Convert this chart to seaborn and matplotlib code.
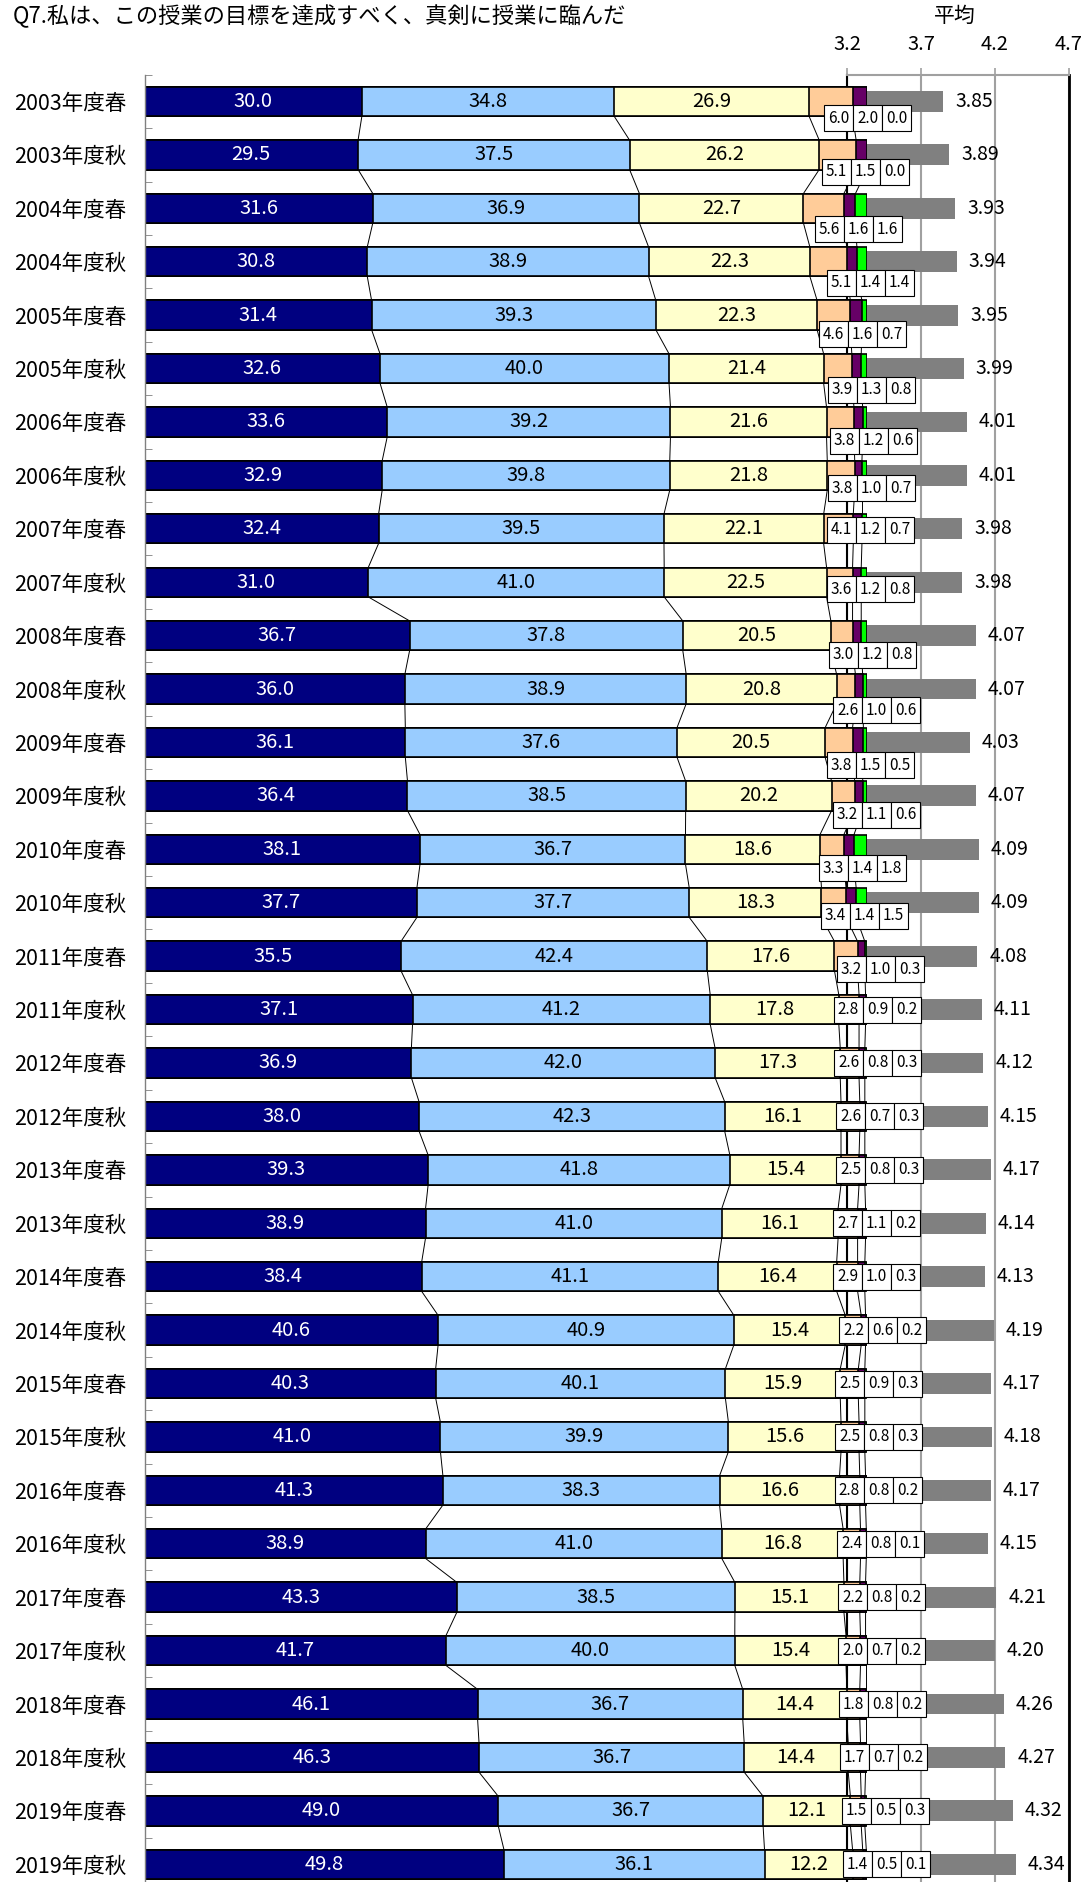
import matplotlib
matplotlib.use("Agg")
import matplotlib.pyplot as plt
from matplotlib.patches import Rectangle
import seaborn as sns
import numpy as np
import pandas as pd

plt.rcParams['font.family'] = ['Noto Sans CJK JP', 'DejaVu Sans']

# data
terms = ["2003年度春", "2003年度秋", "2004年度春", "2004年度秋", "2005年度春", "2005年度秋",
         "2006年度春", "2006年度秋", "2007年度春", "2007年度秋", "2008年度春", "2008年度秋",
         "2009年度春", "2009年度秋", "2010年度春", "2010年度秋", "2011年度春", "2011年度秋",
         "2012年度春", "2012年度秋", "2013年度春", "2013年度秋", "2014年度春", "2014年度秋",
         "2015年度春", "2015年度秋", "2016年度春", "2016年度秋", "2017年度春", "2017年度秋",
         "2018年度春", "2018年度秋", "2019年度春", "2019年度秋"]
strongly_agree = [30.0, 29.5, 31.6, 30.8, 31.4, 32.6, 33.6, 32.9, 32.4, 31.0, 36.7, 36.0,
                  36.1, 36.4, 38.1, 37.7, 35.5, 37.1, 36.9, 38.0, 39.3, 38.9, 38.4, 40.6,
                  40.3, 41.0, 41.3, 38.9, 43.3, 41.7, 46.1, 46.3, 49.0, 49.8]
agree = [34.8, 37.5, 36.9, 38.9, 39.3, 40.0, 39.2, 39.8, 39.5, 41.0, 37.8, 38.9,
         37.6, 38.5, 36.7, 37.7, 42.4, 41.2, 42.0, 42.3, 41.8, 41.0, 41.1, 40.9,
         40.1, 39.9, 38.3, 41.0, 38.5, 40.0, 36.7, 36.7, 36.7, 36.1]
neutral = [26.9, 26.2, 22.7, 22.3, 22.3, 21.4, 21.6, 21.8, 22.1, 22.5, 20.5, 20.8,
           20.5, 20.2, 18.6, 18.3, 17.6, 17.8, 17.3, 16.1, 15.4, 16.1, 16.4, 15.4,
           15.9, 15.6, 16.6, 16.8, 15.1, 15.4, 14.4, 14.4, 12.1, 12.2]
disagree = [6.0, 5.1, 5.6, 5.1, 4.6, 3.9, 3.8, 3.8, 4.1, 3.6, 3.0, 2.6,
            3.8, 3.2, 3.3, 3.4, 3.2, 2.8, 2.6, 2.6, 2.5, 2.7, 2.9, 2.2,
            2.5, 2.5, 2.8, 2.4, 2.2, 2.0, 1.8, 1.7, 1.5, 1.4]
strongly_disagree = [2.0, 1.5, 1.6, 1.4, 1.6, 1.3, 1.2, 1.0, 1.2, 1.2, 1.2, 1.0,
                     1.5, 1.1, 1.4, 1.4, 1.0, 0.9, 0.8, 0.7, 0.8, 1.1, 1.0, 0.6,
                     0.9, 0.8, 0.8, 0.8, 0.8, 0.7, 0.8, 0.7, 0.5, 0.5]
no_answer = [0.0, 0.0, 1.6, 1.4, 0.7, 0.8, 0.6, 0.7, 0.7, 0.8, 0.8, 0.6,
             0.5, 0.6, 1.8, 1.5, 0.3, 0.2, 0.3, 0.3, 0.3, 0.2, 0.3, 0.2,
             0.3, 0.3, 0.2, 0.1, 0.2, 0.2, 0.2, 0.2, 0.3, 0.1]
average = [3.85, 3.89, 3.93, 3.94, 3.95, 3.99, 4.01, 4.01, 3.98, 3.98, 4.07, 4.07,
           4.03, 4.07, 4.09, 4.09, 4.08, 4.11, 4.12, 4.15, 4.17, 4.14, 4.13, 4.19,
           4.17, 4.18, 4.17, 4.15, 4.21, 4.20, 4.26, 4.27, 4.32, 4.34]

# where the small-value label boxes sit (pixels, relative to the 100% edge / bar centre)
box_shift_x = [-43, -45, -52, -40, -48, -39, -37, -39, -40, -40, -38, -34, -40, -34, -48, -46, -30,
               -33, -33, -31, -31, -34, -34, -28, -32, -32, -32, -30, -29, -29, -28, -27, -25, -24]
box_shift_y = [17, 17, 21, 21, 19, 21, 19, 13, 1, 7, 19, 21, 23, 19, 19, 13, 13,
               0, 0, 0, 0, 0, 0, 0, 0, 0, 0, 0, 0, 0, 0, 0, 0, 0]

cols = ["s1", "s2", "s3", "s4", "s5", "s6"]
colors = ["#000080", "#99CCFF", "#FFFFCC", "#FFCC99", "#660066", "#00FF00"]
df = pd.DataFrame({"term": terms, "s1": strongly_agree, "s2": agree, "s3": neutral,
                   "s4": disagree, "s5": strongly_disagree, "s6": no_answer, "avg": average})
pct = df[cols].div(df[cols].sum(axis=1), axis=0) * 100
cums = pct.cumsum(axis=1)
for c in cols:
    df["cum_" + c] = cums[c]

W, H = 1086, 1882
fig = plt.figure(figsize=(W / 100, H / 100), dpi=100)
ax2 = fig.add_axes([847 / W, 1 - 1891 / H, 222 / W, 1816.3 / H])
ax = fig.add_axes([144.5 / W, 1 - 1891 / H, 722.5 / W, 1816.3 / H])
ax.set_zorder(3)
ax.patch.set_visible(False)

# average bars (right panel)
sns.barplot(data=df, x="avg", y="term", orient="h", color="#808080", saturation=1,
            width=0.39, linewidth=0, errorbar=None, ax=ax2)
ax2.set_xlim(3.2, 4.7)
ax2.set_ylim(33.5, -0.5)
ax2.xaxis.tick_top()
ax2.set_xticks([3.2, 3.7, 4.2, 4.7])
ax2.set_xticklabels(["3.2", "3.7", "4.2", "4.7"])
ax2.tick_params(axis="x", direction="out", length=5, color="#A0A0A0", width=1.2,
                pad=9, labelsize=14.5)
ax2.set_yticks([])
ax2.grid(axis="x", color="#A0A0A0", lw=1.5)
ax2.set_axisbelow(True)
ax2.spines["top"].set_color("#A0A0A0")
ax2.spines["top"].set_linewidth(1.5)
ax2.spines["left"].set_color("black")
ax2.spines["left"].set_linewidth(1.5)
ax2.spines["right"].set_color("black")
ax2.spines["right"].set_linewidth(2)
ax2.spines["bottom"].set_visible(False)
ax2.set_xlabel("")
ax2.set_ylabel("")
for i, v in enumerate(average):
    ax2.text(v + 12 / 148, i, f"{v:.2f}", ha="left", va="center", fontsize=14,
             clip_on=False)

# stacked 100% bars: draw cumulative totals from longest to shortest
for c, color in reversed(list(zip(cols, colors))):
    sns.barplot(data=df, x="cum_" + c, y="term", orient="h", color=color, saturation=1,
                width=0.55, edgecolor="black", linewidth=1.2, errorbar=None, ax=ax)

# series lines between bars
b = cums.values
for i in range(len(terms) - 1):
    for k in range(len(cols)):
        ax.plot([b[i, k], b[i + 1, k]], [i + 0.275, i + 1 - 0.275], color="black", lw=0.7,
                zorder=0.5)

# labels inside the three big segments
for i in range(len(terms)):
    left = 0
    for k, c in enumerate(cols[:3]):
        ax.text(left + pct[c][i] / 2, i, f"{df[c][i]:.1f}", ha="center", va="center",
                fontsize=14.5, color="white" if k == 0 else "black")
        left += pct[c][i]

# boxed labels for the three small segments
px_x = 722.5 / 100
px_y = 1816.3 / 34
box_w = 29 / px_x
box_h = 26 / px_y
for i in range(len(terms)):
    x0 = 100 + box_shift_x[i] / px_x
    yc = i + box_shift_y[i] / px_y
    for k, c in enumerate(cols[3:]):
        ax.add_patch(Rectangle((x0 + k * box_w, yc - box_h / 2), box_w, box_h,
                               facecolor="white", edgecolor="black", lw=0.8,
                               clip_on=False, zorder=5))
        ax.text(x0 + (k + 0.5) * box_w, yc, f"{df[c][i]:.1f}", ha="center", va="center",
                fontsize=11, zorder=6, clip_on=False)

ax.set_xlim(0, 100)
ax.set_ylim(33.5, -0.5)
ax.set_xticks([])
ax.set_yticks(range(len(terms)))
ax.set_yticklabels(terms, fontsize=15.5)
ax.set_yticks(np.arange(-0.5, len(terms), 1), minor=True)
ax.tick_params(axis="y", which="major", length=0, pad=13)
ax.tick_params(axis="y", which="minor", direction="in", length=5, color="#808080")
for s in ["top", "right", "bottom"]:
    ax.spines[s].set_visible(False)
ax.spines["left"].set_color("#808080")
ax.spines["left"].set_linewidth(1)
ax.set_xlabel("")
ax.set_ylabel("")

fig.text(13 / W, 1 - 16 / H, "Q7.私は、この授業の目標を達成すべく、真剣に授業に臨んだ",
         ha="left", va="center", fontsize=16)
fig.text(955 / W, 1 - 16 / H, "平均", ha="center", va="center", fontsize=15)

fig.savefig("out.png", dpi=100)
